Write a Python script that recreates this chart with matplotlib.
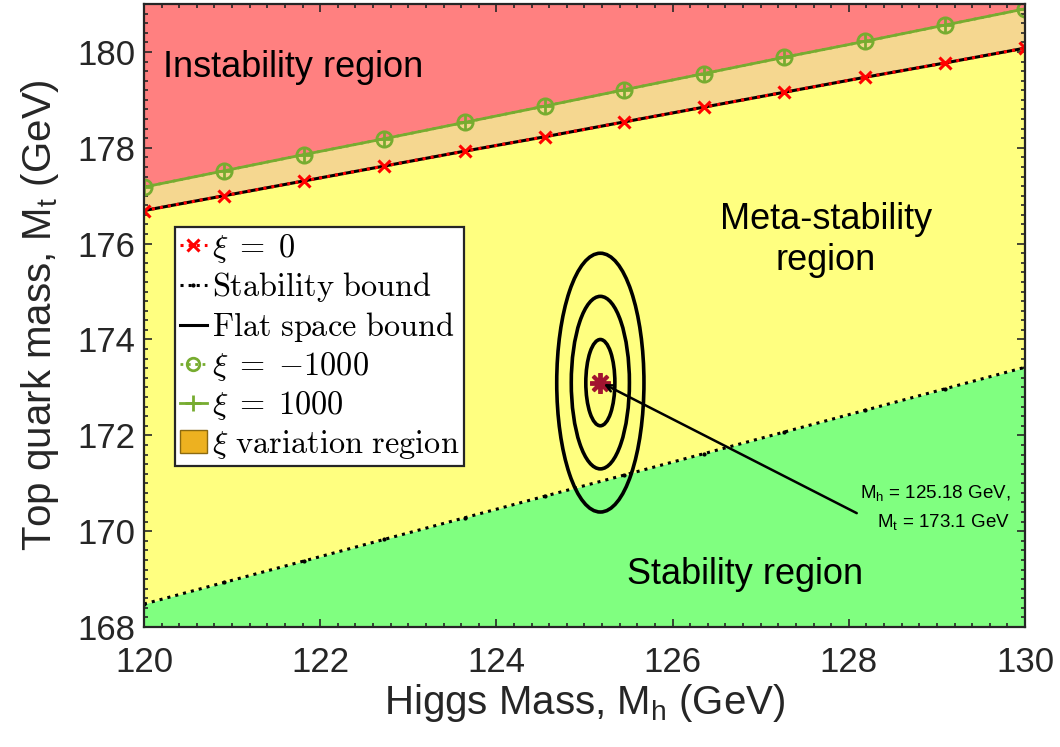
import matplotlib
matplotlib.use("Agg")
import matplotlib.pyplot as plt
from matplotlib.patches import Ellipse, Patch
from matplotlib.lines import Line2D
from matplotlib.ticker import MultipleLocator

plt.rcParams["font.family"] = ["Liberation Sans", "DejaVu Sans"]
plt.rcParams["mathtext.fontset"] = "custom"
plt.rcParams["mathtext.rm"] = "Liberation Sans"
plt.rcParams["mathtext.it"] = "Liberation Sans"

# Higgs mass grid (GeV)
higgs_mass = [120.0, 120.91, 121.82, 122.73, 123.64, 124.55,
              125.45, 126.36, 127.27, 128.18, 129.09, 130.0]
# Top mass bounds (GeV)
mt_xi0 = [176.69, 177.00, 177.31, 177.62, 177.93, 178.23,
          178.54, 178.85, 179.16, 179.47, 179.77, 180.08]
mt_flat = [176.69, 177.00, 177.31, 177.62, 177.93, 178.23,
           178.54, 178.85, 179.16, 179.47, 179.77, 180.08]
mt_xi_minus1000 = [177.18, 177.52, 177.86, 178.19, 178.53, 178.87,
                   179.21, 179.55, 179.89, 180.22, 180.56, 180.90]
mt_xi_plus1000 = [177.18, 177.52, 177.86, 178.19, 178.53, 178.87,
                  179.21, 179.55, 179.89, 180.22, 180.56, 180.90]
mt_stability = [168.48, 168.93, 169.38, 169.83, 170.28, 170.73,
                171.17, 171.62, 172.07, 172.52, 172.97, 173.42]

# Measured central values and uncertainties
mh_central = 125.18
mt_central = 173.1
sigma_mh = 0.165
sigma_mt = 0.9
sigma_levels = [1, 2, 3]

xlim = (120, 130)
ylim = (168, 181)

RED = "#FF8080"
TAN = "#F5D790"
YELLOW = "#FFFF80"
GREEN_FILL = "#80FF80"
GREEN_LINE = "#77AC30"
ORANGE = "#EDB120"
STAR = "#A2142F"
SPINE = "#262626"

fig = plt.figure(figsize=(10.6, 7.47), dpi=100)
ax = fig.add_axes([0.1358, 0.1606, 0.967 - 0.1358, 0.9946 - 0.1606])

# Coloured regions
ax.fill_between(higgs_mass, mt_xi_minus1000, ylim[1], color=RED, lw=0, zorder=1)
ax.fill_between(higgs_mass, mt_xi0, mt_xi_minus1000, color=TAN, lw=0, zorder=1)
ax.fill_between(higgs_mass, mt_stability, mt_xi0, color=YELLOW, lw=0, zorder=1)
ax.fill_between(higgs_mass, ylim[0], mt_stability, color=GREEN_FILL, lw=0, zorder=1)

# Bounds
ax.plot(higgs_mass, mt_flat, color="black", lw=2.2, zorder=3)
ax.plot(higgs_mass, mt_xi0, color="red", ls=":", lw=2.2, marker="x",
        ms=8, mew=2.2, zorder=4)
ax.plot(higgs_mass, mt_stability, color="black", ls=":", lw=2.2, marker=".",
        ms=4, zorder=3)
ax.plot(higgs_mass, mt_xi_plus1000, color=GREEN_LINE, ls="-", lw=2.0,
        marker="+", ms=11, mew=2.0, zorder=4)
ax.plot(higgs_mass, mt_xi_minus1000, color=GREEN_LINE, ls=":", lw=2.0,
        marker="o", ms=11, mfc="none", mew=2.0, zorder=4)

# Confidence ellipses around the measured point
for n in sigma_levels:
    ax.add_patch(Ellipse((mh_central, mt_central), 2 * n * sigma_mh,
                         2 * n * sigma_mt, fill=False, ec="black",
                         lw=2.6, zorder=5))
ax.plot([mh_central], [mt_central], marker=(8, 2, 0), ms=15, mew=2.8,
        color=STAR, ls="none", zorder=6)

ax.annotate("M$_\\mathregular{h}$ = %.2f GeV,\nM$_\\mathregular{t}$ = %.1f GeV"
            % (mh_central, mt_central),
            xy=(mh_central + 0.04, mt_central - 0.03),
            xytext=(129.83, 170.5), ha="right", va="center",
            fontsize=13.5, linespacing=1.6, zorder=6,
            arrowprops=dict(arrowstyle="->", color="black", lw=1.8,
                            shrinkA=0, shrinkB=0, mutation_scale=12,
                            relpos=(0.0, 0.35)))

# Region labels
ax.text(120.22, 179.68, "Instability region", fontsize=26, ha="left",
        va="center", zorder=6)
ax.text(127.74, 176.08, "Meta-stability\nregion", fontsize=26, ha="center",
        va="center", linespacing=1.2, zorder=6)
ax.text(125.48, 169.09, "Stability region", fontsize=26, ha="left",
        va="center", zorder=6)

ax.set_xlim(*xlim)
ax.set_ylim(*ylim)
ax.xaxis.set_major_locator(MultipleLocator(2))
ax.xaxis.set_minor_locator(MultipleLocator(0.2))
ax.yaxis.set_major_locator(MultipleLocator(2))
ax.yaxis.set_minor_locator(MultipleLocator(0.2))
ax.tick_params(which="both", direction="in", top=True, right=True,
               colors=SPINE, width=1.2)
ax.tick_params(which="major", length=6, labelsize=25)
ax.tick_params(which="minor", length=3)
ax.tick_params(axis="x", pad=14)
ax.tick_params(axis="y", pad=6)
for sp in ax.spines.values():
    sp.set_color(SPINE)
    sp.set_linewidth(1.6)
    sp.set_zorder(10)

ax.set_xlabel("Higgs Mass, M$_\\mathregular{h}$ (GeV)", fontsize=29,
              color=SPINE, labelpad=2)
ax.set_ylabel("Top quark mass, M$_\\mathregular{t}$ (GeV)", fontsize=29,
              color=SPINE, labelpad=12)

# Legend in serif math style
handles = [
    Line2D([], [], color="red", ls=":", lw=2.2, marker="x", ms=8, mew=2.2),
    Line2D([], [], color="black", ls=":", lw=2.2, marker=".", ms=4),
    Line2D([], [], color="black", ls="-", lw=2.2),
    Line2D([], [], color=GREEN_LINE, ls=":", lw=2.0, marker="o", ms=9,
           mfc="none", mew=2.0),
    Line2D([], [], color=GREEN_LINE, ls="-", lw=2.0, marker="+", ms=11,
           mew=2.0),
    Patch(facecolor=ORANGE, edgecolor="#8C6A10", lw=1.0),
]
labels = [
    r"$\xi\;=\;0$",
    r"$\mathrm{Stability\ bound}$",
    r"$\mathrm{Flat\ space\ bound}$",
    r"$\xi\;=\;{-}1000$",
    r"$\xi\;=\;1000$",
    r"$\xi\ \mathrm{variation\ region}$",
]
with plt.rc_context({"mathtext.fontset": "cm"}):
    leg = ax.legend(handles, labels, loc="upper left",
                    bbox_to_anchor=(0.035, 0.6425), fontsize=23.3,
                    frameon=True, fancybox=False, framealpha=1,
                    edgecolor="#262626", handlelength=0.85,
                    handletextpad=0.15, labelspacing=0.18, borderpad=0.15,
                    borderaxespad=0.0, numpoints=1)
    leg.get_frame().set_linewidth(1.6)
    leg.set_zorder(8)
    fig.savefig("out.png", dpi=100)
